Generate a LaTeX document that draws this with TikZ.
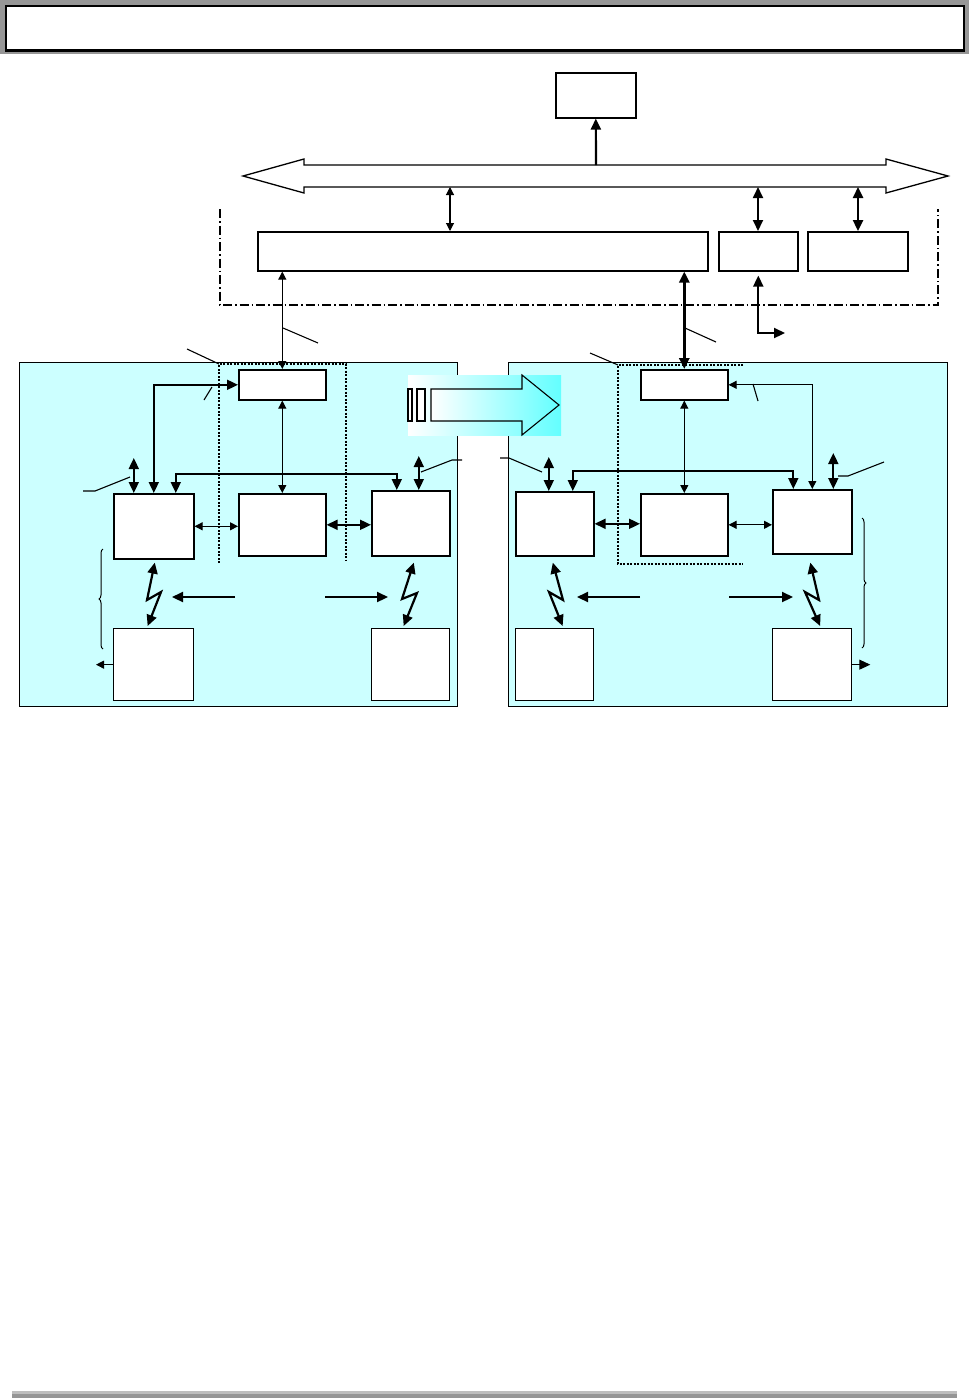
\documentclass[tikz,border=0pt]{standalone}
\usetikzlibrary{arrows.meta,decorations.pathreplacing,calc}
\definecolor{panelcyan}{RGB}{204,255,255}
\definecolor{gradcyan}{RGB}{100,255,255}
\definecolor{hdrgray}{RGB}{150,150,150}
\definecolor{lgray}{RGB}{190,190,190}
\tikzset{
  Ts/.tip={Triangle[length=8pt,width=8pt]},
  Tb/.tip={Triangle[length=11pt,width=10pt]},
  box/.style={draw, fill=white, line width=1.6pt, inner sep=0pt, anchor=north west},
  panel/.style={draw, fill=panelcyan, line width=1.3pt, inner sep=0pt, anchor=north west},
  thinar/.style={line width=1.1pt, arrows={Ts-Ts}},
  medar/.style={line width=1.8pt, arrows={Tb-Tb}},
  thickar/.style={line width=2.4pt, arrows={Tb-Tb}},
  onear/.style={line width=2.2pt, arrows={-Tb}},
  leader/.style={line width=1.1pt},
  bolt/.style={line width=2.2pt, line join=miter, arrows={Tb-Tb}},
  frame/.style={line width=1.1pt, dash pattern=on 9pt off 3pt on 1.5pt off 3pt},
  dotfr/.style={line width=1.1pt, dash pattern=on 2pt off 1.5pt},
  brc/.style={line width=1pt, decorate, decoration={brace, amplitude=4pt}}
}
\begin{document}
\begin{tikzpicture}[x=1pt,y=-1pt]
\useasboundingbox (0,0) rectangle (969,1398);
% header
\fill[hdrgray] (0,0) rectangle (969,54);
\node[draw, fill=white, line width=1.5pt, inner sep=0pt, anchor=north west,
      minimum width=958pt, minimum height=44pt] (hdr) at (5,5) {};
\draw[line width=3pt] (hdr.south west) -- (hdr.south east);
% footer
\fill[lgray] (12,1391) rectangle (957,1394);
\fill[hdrgray] (12,1394) rectangle (957,1398);

% top box and bus
\node[box, minimum width=80pt, minimum height=45pt] (top) at (555,72) {};
\draw[line width=1.3pt, fill=white] (243,176) -- (304,159) -- (304,165) -- (886,165) -- (886,159)
  -- (948,176) -- (886,193) -- (886,187) -- (304,187) -- (304,193) -- cycle;
\coordinate (busT) at (596,165);
\draw[onear] (busT) -- (top.south);

% outer dash-dot frame
\draw[frame] (220,209) -- (220,305) -- (938,305) -- (938,209);
\node[box, minimum width=450pt, minimum height=39pt] (big) at (257,231) {};
\node[box, minimum width=79pt, minimum height=39pt] (b2) at (718,231) {};
\node[box, minimum width=100pt, minimum height=39pt] (b3) at (807,231) {};
\coordinate (bus1) at (450,187);
\coordinate (bus2) at (758,187);
\coordinate (bus3) at (858,187);
\draw[thinar] (bus1) -- (bus1 |- big.north);
\draw[medar] (bus2) -- (bus2 |- b2.north);
\draw[thickar] (bus3) -- (bus3 |- b3.north);
\coordinate (b2out) at (785,333);
\draw[line width=2.2pt, arrows={Tb-Tb}, shorten <=4pt] (b2.south) |- (b2out);

% panels
\node[panel, minimum width=438pt, minimum height=344pt] (lp) at (19,362) {};
\node[panel, minimum width=439pt, minimum height=344pt] (rp) at (508,362) {};

% dotted groups
\draw[dotfr] (219,563) -- (219,364) -- (346,364) -- (346,560);
\draw[dotfr] (743,365) -- (618,365) -- (618,564) -- (743,564);

% left panel boxes
\node[box, minimum width=87pt, minimum height=30pt] (LA) at (238,369) {};
\node[box, minimum width=80pt, minimum height=65pt] (LB) at (113,493) {};
\node[box, minimum width=87pt, minimum height=62pt] (LC) at (238,493) {};
\node[box, minimum width=78pt, minimum height=65pt] (LD) at (371,490) {};
\node[box, line width=1.3pt, minimum width=80pt, minimum height=72pt] (LE) at (113,628) {};
\node[box, line width=1.3pt, minimum width=78pt, minimum height=72pt] (LF) at (371,628) {};
% right panel boxes
\node[box, minimum width=87pt, minimum height=30pt] (RA) at (640,369) {};
\node[box, minimum width=78pt, minimum height=64pt] (RB) at (515,491) {};
\node[box, minimum width=87pt, minimum height=62pt] (RC) at (640,493) {};
\node[box, minimum width=79pt, minimum height=64pt] (RD) at (772,489) {};
\node[box, line width=1.3pt, minimum width=78pt, minimum height=72pt] (RE) at (515,628) {};
\node[box, line width=1.3pt, minimum width=79pt, minimum height=72pt] (RF) at (772,628) {};

% links from big box to panels
\draw[thinar] (big.south -| LA.north) -- (LA.north);
\draw[line width=2.8pt, arrows={Tb-Tb}] (big.south -| RA.north) -- (RA.north);
\draw[leader] (283,328) -- (318,343);
\draw[leader] (685,328) -- (716,342);

% left panel connectors
\draw[thinar] (LA.south) -- (LC.north);
\draw[medar] (LB.north) |- (LA.west);
\draw[medar] ([xshift=22pt]LB.north) -- ++(0,-19) -| ([xshift=-14pt]LD.north);
\draw[medar] ([xshift=-20pt]LB.north) -- ++(0,-35);
\draw[medar] ([xshift=8pt]LD.north) -- ++(0,-34);
\draw[thinar] (LB.east) -- (LB.east -| LC.west);
\draw[medar] (LC.east) -- (LC.east -| LD.west);
\draw[bolt] ([shift={(1,3)}]LB.south) -- (147,600) -- (161,592) -- ([shift={(-6,-2)}]LE.north);
\draw[bolt] ([shift={(3,6)}]LD.south) -- (402,599) -- (417,593) -- ([shift={(-7,-2)}]LF.north);
\coordinate (lm1) at (235,597);
\coordinate (lm2) at (325,597);
\draw[onear] (lm1) -- ++(-63,0);
\draw[onear] (lm2) -- ++(63,0);
\draw[brc] (103,649) -- (103,549);
\draw[line width=1.1pt, arrows={-Ts}] (LE.west) -- ++(-17,0);
\draw[leader] (83,491) -- (95,491) -- (130,477);
\draw[leader] (421,472) -- (452,460) -- (462,460);
\draw[leader] (204,400) -- (212,387);
\draw[leader] (187,349) -- (219,364);

% right panel connectors
\draw[thinar] (RA.south) -- (RC.north);
\draw[thinar] (RD.north) |- (RA.east);
\draw[medar] ([xshift=18pt]RB.north) -- ++(0,-20) -| ([xshift=-19pt]RD.north);
\draw[medar] ([xshift=-6pt]RB.north) -- ++(0,-34);
\draw[medar] ([xshift=21pt]RD.north) -- ++(0,-36);
\draw[medar] (RB.east) -- (RB.east -| RC.west);
\draw[thinar] (RC.east) -- (RC.east -| RD.west);
\draw[bolt] ([shift={(-2,6)}]RB.south) -- (563,600) -- (549,592) -- ([shift={(8,-2)}]RE.north);
\draw[bolt] ([shift={(-2,8)}]RD.south) -- (819,600) -- (805,592) -- ([shift={(8,-2)}]RF.north);
\coordinate (rm1) at (640,597);
\coordinate (rm2) at (729,597);
\draw[onear] (rm1) -- ++(-63,0);
\draw[onear] (rm2) -- ++(64,0);
\draw[brc] (862,518) -- (862,648);
\draw[line width=1.1pt, arrows={-Tb}] (RF.east) -- ++(18,0);
\draw[leader] (500,458) -- (509,458) -- (542,472);
\draw[leader] (838,476) -- (848,476) -- (884,462);
\draw[leader] (753,384) -- (758,401);
\draw[leader] (590,353) -- (618,365);

% gradient transfer arrow
\shade[left color=white, right color=gradcyan] (408,375) rectangle (561,435);
\shadedraw[left color=white, right color=gradcyan, line width=1.1pt]
  (431,389) -- (522,389) -- (522,375) -- (559,405) -- (522,435) -- (522,421) -- (431,421) -- cycle;
\draw[fill=white, line width=1.1pt] (408,389) rectangle (412,421);
\draw[fill=white, line width=1.1pt] (417,389) rectangle (425,421);
\end{tikzpicture}
\end{document}
